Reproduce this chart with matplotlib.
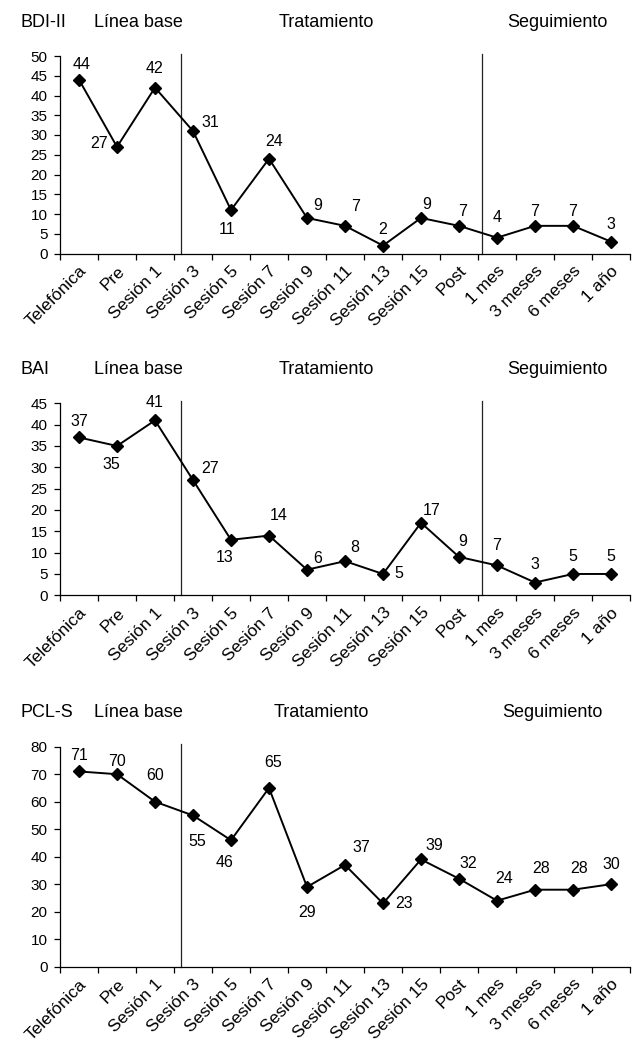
import matplotlib.pyplot as plt

categories = ['Telefónica', 'Pre', 'Sesión 1', 'Sesión 3', 'Sesión 5', 'Sesión 7',
              'Sesión 9', 'Sesión 11', 'Sesión 13', 'Sesión 15', 'Post',
              '1 mes', '3 meses', '6 meses', '1 año']

bdi = [44, 27, 42, 31, 11, 24, 9, 7, 2, 9, 7, 4, 7, 7, 3]
bai = [37, 35, 41, 27, 13, 14, 6, 8, 5, 17, 9, 7, 3, 5, 5]
pcl = [71, 70, 60, 55, 46, 65, 29, 37, 23, 39, 32, 24, 28, 28, 30]

# label offsets in pixels (dx, dy up)
bdi_off = [(3, 15), (-18, 3), (0, 19), (17, 9), (-4, -19), (5, 17), (11, 12), (11, 19),
           (0, 16), (6, 13), (4, 14), (0, 20), (0, 14), (0, 14), (0, 17)]
bai_off = [(0, 16), (-6, -19), (0, 18), (17, 12), (-6, -18), (10, 20), (11, 11), (10, 14),
           (16, 0), (11, 12), (4, 15), (0, 20), (0, 18), (0, 17), (0, 17)]
pcl_off = [(0, 16), (0, 13), (0, 26), (4, -26), (-6, -22), (4, 25), (0, -26), (16, 17),
           (21, 0), (13, 14), (9, 15), (7, 22), (6, 21), (6, 21), (0, 20)]

plt.rcParams['font.family'] = ['Liberation Sans', 'DejaVu Sans']

W, H = 641, 1044
fig = plt.figure(figsize=(W / 100, H / 100), dpi=100)

# name, values, offsets, ymax, step, separators, y0 px, ytop px, header baseline px, header centres
panels = [
    ('BDI-II', bdi, bdi_off, 50, 5, [2.69, 10.6], 253.5, 56, 27, (326.5, 557)),
    ('BAI', bai, bai_off, 45, 5, [2.69, 10.6], 595.3, 403.3, 374, (326.5, 557)),
    ('PCL-S', pcl, pcl_off, 80, 10, [2.69], 966.7, 746.7, 717, (321.7, 552)),
]

for name, vals, offs, ymax, step, vlines, y0, ytop, head_y, (trat_x, seg_x) in panels:
    ax = fig.add_axes([60 / W, 1 - y0 / H, 570 / W, (y0 - ytop) / H])
    x = list(range(len(categories)))
    ax.plot(x, vals, color='black', lw=1.4, marker='D', ms=6, zorder=3, clip_on=False)
    for xi, v, (dx, dy) in zip(x, vals, offs):
        ax.annotate(str(v), (xi, v), xytext=(dx, dy), textcoords='offset pixels',
                    ha='center', va='center', fontsize=11.5)
    for xv in vlines:
        ax.plot([xv, xv], [0, 1.012], color='#222222', lw=0.9,
                transform=ax.get_xaxis_transform(), clip_on=False)
    ax.set_xlim(-0.5, len(categories) - 0.5)
    ax.set_ylim(0, ymax)
    ax.set_yticks(range(0, ymax + 1, step))
    ax.set_xticks([i - 0.5 for i in range(len(categories) + 1)])
    ax.set_xticklabels([])
    ax.set_xticks(x, minor=True)
    ax.set_xticklabels(categories, minor=True, rotation=45, ha='right', va='top',
                       rotation_mode='anchor', fontsize=12.5)
    ax.tick_params(axis='x', which='minor', length=0, pad=7)
    ax.tick_params(axis='x', which='major', length=4, width=0.9, direction='out')
    ax.tick_params(axis='y', length=4, width=0.9, labelsize=11, pad=5)
    for s in ['top', 'right']:
        ax.spines[s].set_visible(False)
    for s in ['left', 'bottom']:
        ax.spines[s].set_linewidth(0.9)

    y = 1 - head_y / H
    fig.text(21 / W, y, name, ha='left', va='baseline', fontsize=13)
    fig.text(94 / W, y, 'Línea base', ha='left', va='baseline', fontsize=13)
    fig.text(trat_x / W, y, 'Tratamiento', ha='center', va='baseline', fontsize=13)
    fig.text(seg_x / W, y, 'Seguimiento', ha='center', va='baseline', fontsize=13)

fig.savefig('out.png', dpi=100)
